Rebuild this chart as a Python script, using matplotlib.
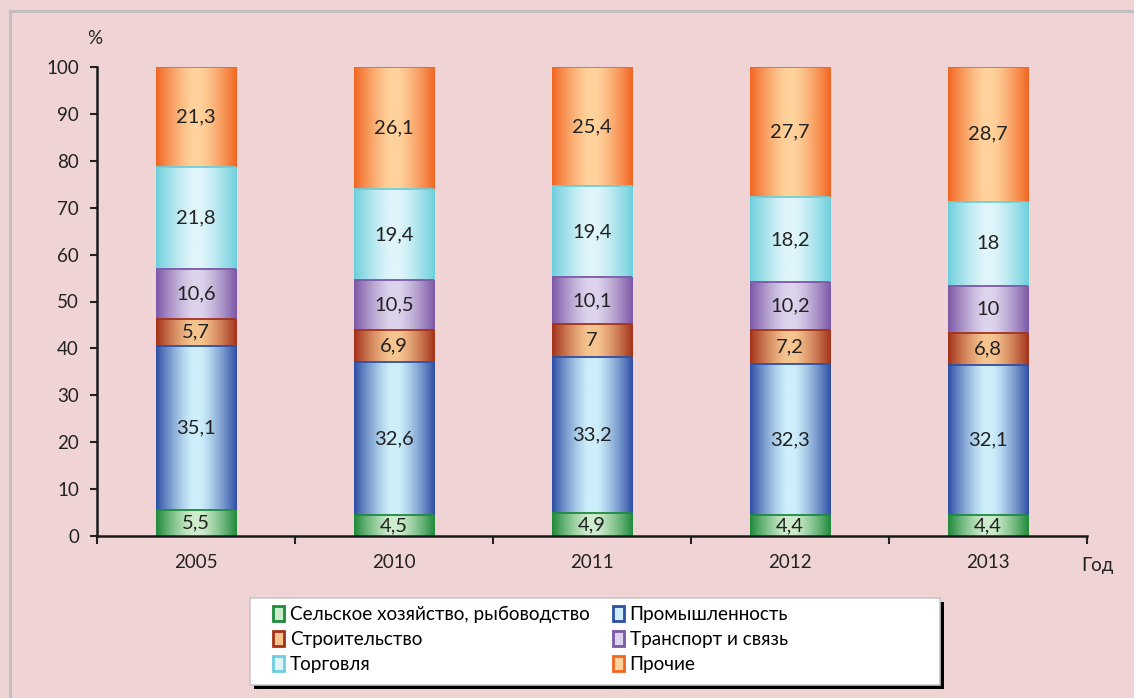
import numpy as np
import matplotlib

matplotlib.use('Agg')
import matplotlib.pyplot as plt
from matplotlib.colors import to_rgb
from matplotlib.patches import Patch, Rectangle
from matplotlib.lines import Line2D

years = ['2005', '2010', '2011', '2012', '2013']
agriculture = [5.5, 4.5, 4.9, 4.4, 4.4]
industry = [35.1, 32.6, 33.2, 32.3, 32.1]
construction = [5.7, 6.9, 7.0, 7.2, 6.8]
transport = [10.6, 10.5, 10.1, 10.2, 10.0]
trade = [21.8, 19.4, 19.4, 18.2, 18.0]
other = [21.3, 26.1, 25.4, 27.7, 28.7]

series_names = ['Сельское хозяйство, рыбоводство', 'Промышленность', 'Строительство',
                'Транспорт и связь', 'Торговля', 'Прочие']
series_values = [agriculture, industry, construction, transport, trade, other]
# (edge colour, centre colour)
series_colors = [('#1f8a3b', '#cdeccb'), ('#2f4fa6', '#cdeefa'), ('#a3321b', '#f6c48e'),
                 ('#7c58a6', '#ddd3ec'), ('#6dcfdc', '#dff5fa'), ('#f26522', '#ffd29c')]

BG_COLOR = '#f0d4d5'
TEXT_COLOR = '#222222'
plt.rcParams['font.family'] = ['Lato', 'DejaVu Sans']


def gradient_image(dark, light, n=200):
    t = np.abs(np.linspace(-1, 1, n))
    w = np.clip((t - 0.1) / 0.9, 0, 1) ** 1.3
    d = np.array(to_rgb(dark))
    l = np.array(to_rgb(light))
    row = l[None, :] * (1 - w[:, None]) + d[None, :] * w[:, None]
    return row[None, :, :]


fig = plt.figure(figsize=(11.34, 6.98), dpi=100)
fig.patch.set_facecolor(BG_COLOR)
ax = fig.add_axes([97 / 1134, 1 - 536 / 698, 990 / 1134, 469 / 698])
ax.set_facecolor(BG_COLOR)

# outer frame
fig.add_artist(Line2D([10 / 1134, 10 / 1134], [0, 1 - 11 / 698], transform=fig.transFigure,
                      color='#c2bfc1', lw=2.2))
fig.add_artist(Line2D([10 / 1134, 1], [1 - 11 / 698, 1 - 11 / 698], transform=fig.transFigure,
                      color='#c2bfc1', lw=2.2))

x = np.arange(len(years))
width = 0.405
bottom = np.zeros(len(years))
for name, vals, (dark, light) in zip(series_names, series_values, series_colors):
    vals = np.array(vals)
    bars = ax.bar(x, vals, width, bottom=bottom, facecolor='none', edgecolor='none', zorder=2)
    img = gradient_image(dark, light)
    for rect, v, b in zip(bars, vals, bottom):
        x0 = rect.get_x()
        im = ax.imshow(img, extent=(x0, x0 + rect.get_width(), b, b + v),
                       aspect='auto', zorder=2, interpolation='bilinear')
        im.set_clip_path(rect)
        ax.plot([x0, x0 + rect.get_width()], [b + v, b + v], color=dark, lw=1.3, zorder=3,
                solid_capstyle='butt')
        label = f'{v:g}'.replace('.', ',')
        ax.text(rect.get_x() + rect.get_width() / 2, b + v / 2, label, ha='center', va='center',
                fontsize=14.5, color=TEXT_COLOR, zorder=4)
    bottom += vals

ax.set_xlim(-0.5, len(years) - 0.5)
ax.set_ylim(0, 100)
ax.set_yticks(np.arange(0, 101, 10))
ax.set_xticks(x)
ax.set_xticklabels(years)
ax.set_xticks(np.arange(-0.5, len(years), 1), minor=True)
ax.tick_params(axis='x', which='major', length=0, pad=13, labelsize=13.5, colors=TEXT_COLOR)
ax.tick_params(axis='x', which='minor', length=6, width=1.5, direction='out', color=TEXT_COLOR)
ax.tick_params(axis='y', length=5, width=1.5, direction='out', labelsize=13.5, colors=TEXT_COLOR,
               pad=8)
for s in ['top', 'right']:
    ax.spines[s].set_visible(False)
for s in ['left', 'bottom']:
    ax.spines[s].set_linewidth(1.8)
    ax.spines[s].set_color('#1a1a1a')
ax.spines['bottom'].set_zorder(5)

fig.text(95 / 1134, 1 - 38 / 698, '%', ha='center', va='center', fontsize=13.5, color=TEXT_COLOR)
fig.text(1097 / 1134, 1 - 565 / 698, 'Год', ha='center', va='center', fontsize=13.5,
         color=TEXT_COLOR)

# legend box with a black drop shadow
W, H = 1134, 698
fig.add_artist(Rectangle((254 / W, 1 - 689 / H), 690 / W, 87 / H, transform=fig.transFigure,
                         facecolor='black', edgecolor='none', zorder=5))
fig.add_artist(Rectangle((250 / W, 1 - 685 / H), 690 / W, 87 / H, transform=fig.transFigure,
                         facecolor='white', edgecolor='#c8c8c8', lw=1.2, zorder=6))

# legend: column-wise fill order
order = [0, 2, 4, 1, 3, 5]
handles = [Patch(facecolor=series_colors[i][1], edgecolor=series_colors[i][0], lw=2)
           for i in order]
labels = [series_names[i] for i in order]
leg = fig.legend(handles, labels, ncol=2, loc='upper left',
                 bbox_to_anchor=(258 / W, 1 - 591 / H), frameon=False, fontsize=13.6,
                 handlelength=0.6, handleheight=0.8, handletextpad=0.3, columnspacing=1.2,
                 labelspacing=0.42, borderpad=0.3)
leg.set_zorder(7)

fig.savefig('out.png', dpi=100, facecolor=BG_COLOR)
